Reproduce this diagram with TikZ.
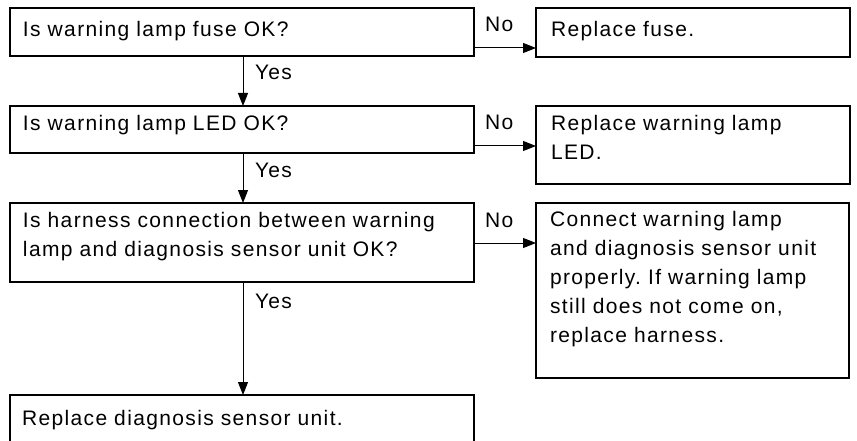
\documentclass[tikz,border=0pt]{standalone}
\usepackage{fontspec}
\setmainfont{Liberation Sans}[LetterSpace=6.5]
\usetikzlibrary{arrows.meta}
\frenchspacing
\begin{document}
\begin{tikzpicture}[x=1pt,y=-1pt,
  box/.style={draw, line width=1.3pt, inner sep=0pt, outer sep=0pt, anchor=north west},
  openbox/.style={inner sep=0pt, outer sep=0pt, anchor=north west},
  txt/.style={inner sep=0pt, outer sep=0pt, anchor=base west, align=left, text width=340pt,
              font=\fontsize{21}{29}\selectfont},
  lbl/.style={inner sep=0pt, outer sep=0pt, anchor=base west, font=\fontsize{21}{24}\selectfont},
  flow/.style={line width=1pt, -{Triangle[length=13pt,width=10pt]}}]
\useasboundingbox (0,0) rectangle (857,441);
% boxes
\node[box, minimum width=464pt, minimum height=48pt] (b1) at (10,8) {};
\node[box, minimum width=314pt, minimum height=49pt] (r1) at (536,8) {};
\node[box, minimum width=464pt, minimum height=47pt] (b2) at (10,106) {};
\node[box, minimum width=314pt, minimum height=78pt] (r2) at (536,106) {};
\node[box, minimum width=464pt, minimum height=79pt] (b3) at (10,203) {};
\node[box, minimum width=313pt, minimum height=175pt] (r3) at (536,203) {};
\node[openbox, minimum width=464pt, minimum height=50pt] (b4) at (10,395) {};
\draw[line width=1.3pt] (b4.south west) -- (b4.north west) -- (b4.north east) -- (b4.south east);
% texts
\node[txt] (t1) at (23,37) {Is warning lamp fuse OK?};
\node[txt] (tr1) at (551,36.5) {Replace fuse.};
\node[txt] (t2) at (23,131) {Is warning lamp LED OK?};
\node[txt] (tr2) at (551,130.5) {Replace warning lamp\\LED.};
\node[txt, text width=460pt] (t3) at (23,227) {Is harness connection between warning\\lamp and diagnosis sensor unit OK?};
\node[txt] (tr3) at (550,226) {Connect warning lamp\\and diagnosis sensor unit\\properly. If warning lamp\\still does not come on,\\replace harness.};
\node[txt] (t4) at (22,425) {Replace diagnosis sensor unit.};
% connectors
\coordinate (c1) at (243,56);
\coordinate (c2) at (243,153);
\coordinate (c3) at (243,282);
\draw[flow] (c1) -- (c1 |- b2.north);
\draw[flow] (c2) -- (c2 |- b3.north);
\draw[flow] (c3) -- (c3 |- b4.north);
\draw[flow] (b1.east |- 0,48) -- (r1.west |- 0,48);
\draw[flow] (b2.east |- 0,146) -- (r2.west |- 0,146);
\draw[flow] (b3.east |- 0,243) -- (r3.west |- 0,243);
% labels
\node[lbl] (y1) at (255,79.5) {Yes};
\node[lbl] (y2) at (255,177.5) {Yes};
\node[lbl] (y3) at (255,308.5) {Yes};
\node[lbl] (n1) at (485,32) {No};
\node[lbl] (n2) at (485,129.5) {No};
\node[lbl] (n3) at (485,227) {No};
\end{tikzpicture}
\end{document}
